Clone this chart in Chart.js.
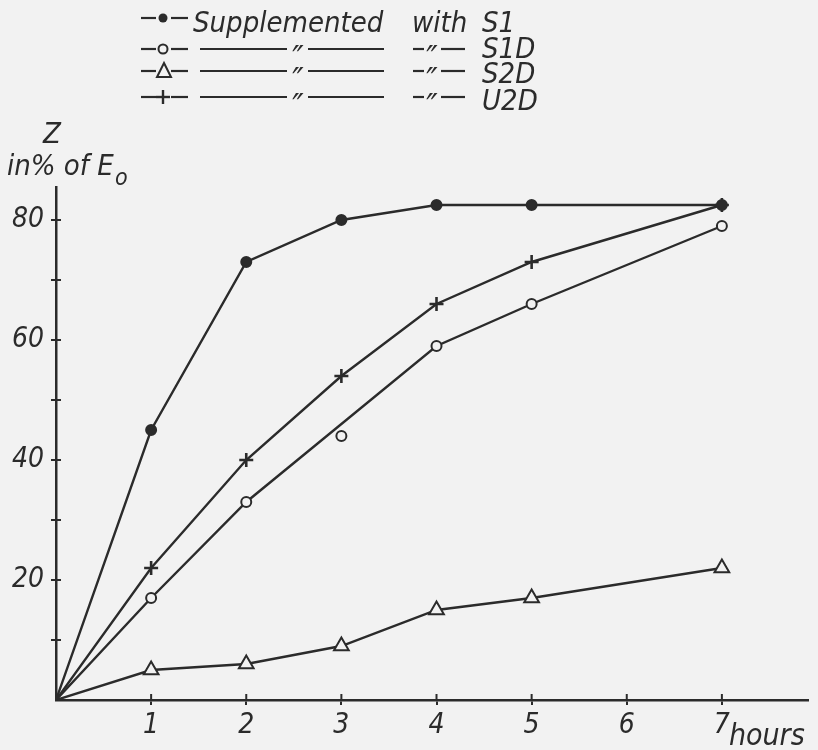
<!DOCTYPE html>
<html>
<head>
<meta charset="utf-8">
<title>Z in % of E0 vs hours</title>
<script src="https://cdn.jsdelivr.net/npm/chart.js@4/dist/chart.umd.min.js"></script>
<style>
  html, body { margin: 0; padding: 0; background: #f2f2f2; }
  #wrap { position: relative; width: 818px; height: 750px; }
</style>
</head>
<body>
<div id="wrap"><canvas id="chart" width="818" height="750"></canvas></div>
<script>
// readings (hours after start, Z in % of E0)
const hours = [0, 1, 2, 3, 4, 5, 7]
const s1 = [0, 45, 73, 80, 82.5, 82.5, 82.5]
const s1d = [0, 17, 33, 44, 59, 66, 79]
const s2d = [0, 5, 6, 9, 15, 17, 22]
const u2d = [0, 22, 40, 54, 66, 73, 82.5]
// the S1D curve is drawn past this reading, not through it
const s1dOffCurve = [3]

const seriesNames = ["S1", "S1D", "S2D", "U2D"]
const xTickLabels = [1, 2, 3, 4, 5, 6, 7]
const yTickLabels = [20, 40, 60, 80]
const xUnit = "hours"
const yTitle = ["Z", "in% of E", "o"]

const INK = "#2b2b2b"
const PAPER = "#f2f2f2"
const FONT = "'DejaVu Sans Condensed', 'DejaVu Sans', sans-serif"

function pts(values, skip) {
  return hours.map((h, i) => ({ x: h, y: skip && skip.includes(i) ? null : values[i] }))
}
const noOrigin = (r) => (ctx) => (ctx.dataIndex === 0 ? 0 : r)

const base = { borderColor: INK, borderWidth: 2.4, tension: 0, pointBorderColor: INK, pointBorderWidth: 2 }

const datasets = [
  { ...base, label: seriesNames[0], data: pts(s1), pointStyle: "circle", pointRadius: noOrigin(5), pointBackgroundColor: INK },
  { ...base, label: seriesNames[1], data: pts(s1d, s1dOffCurve), spanGaps: true, pointStyle: "circle", pointRadius: noOrigin(5), pointBackgroundColor: PAPER },
  { ...base, label: seriesNames[1] + " (off curve)", data: hours.map((h, i) => ({ x: h, y: s1d[i] })).filter((p, i) => s1dOffCurve.includes(i)), showLine: false, pointStyle: "circle", pointRadius: 5, pointBackgroundColor: PAPER },
  { ...base, label: seriesNames[2], data: pts(s2d), pointStyle: "triangle", pointRadius: noOrigin(8.5), pointBackgroundColor: PAPER },
  { ...base, label: seriesNames[3], data: pts(u2d), pointStyle: "cross", pointRadius: noOrigin(7), pointBorderWidth: 2.6 }
]

const tickColor = (list) => (ctx) => (list.includes(ctx.tick.value) || (ctx.tick.value > 0 && ctx.tick.value % 10 === 0 && list === yTickLabels) ? INK : "rgba(0,0,0,0)")

// paper, inward tick halves, axis titles and the hand-set key at the top
const decor = {
  id: "decor",
  beforeDraw(chart) {
    const c = chart.ctx
    c.save(); c.fillStyle = PAPER; c.fillRect(0, 0, chart.width, chart.height); c.restore()
  },
  afterDraw(chart) {
    const c = chart.ctx
    const xs = chart.scales.x, ys = chart.scales.y
    const x0 = xs.left, y0 = ys.bottom
    c.save()
    c.strokeStyle = INK; c.fillStyle = INK; c.lineWidth = 2
    xTickLabels.forEach((v) => { const px = xs.getPixelForValue(v); c.beginPath(); c.moveTo(px, y0); c.lineTo(px, y0 - 6); c.stroke() })
    ys.ticks.forEach((t) => { if (t.value > 0 && t.value % 10 === 0) { const py = ys.getPixelForValue(t.value); c.beginPath(); c.moveTo(x0, py); c.lineTo(x0 + 5, py); c.stroke() } })

    // unit on x
    c.font = "italic 30px " + FONT
    c.textAlign = "left"; c.textBaseline = "alphabetic"
    c.fillText(xUnit, xs.getPixelForValue(7) + 7, 745)

    // y title
    c.font = "italic 29px " + FONT
    c.textAlign = "center"
    c.fillText(yTitle[0], 52, 143)
    c.textAlign = "left"
    c.fillText(yTitle[1], 7, 175)
    c.font = "italic 23px " + FONT
    c.fillText(yTitle[2], 115, 185)

    // key
    const rows = [18, 49, 71, 97]
    const baselines = [32, 58, 83, 110]
    const seg = (a, b, y) => { c.beginPath(); c.moveTo(a, y); c.lineTo(b, y); c.stroke() }
    const ditto = (x, y) => { c.font = "italic 34px " + FONT; c.textAlign = "center"; c.fillText("\u2033", x, y + 21) }
    c.lineWidth = 2.2
    rows.forEach((y, i) => {
      seg(141, 156, y); seg(171, 188, y)
      c.lineWidth = 2
      if (i === 0) { c.beginPath(); c.arc(163, y, 4.5, 0, Math.PI * 2); c.fill() }
      if (i === 1) { c.beginPath(); c.arc(163, y, 4.5, 0, Math.PI * 2); c.stroke() }
      if (i === 2) { c.beginPath(); c.moveTo(164, y - 8); c.lineTo(171, y + 6); c.lineTo(157, y + 6); c.closePath(); c.stroke() }
      if (i === 3) { c.lineWidth = 2.4; seg(156, 170, y); c.beginPath(); c.moveTo(163, y - 7); c.lineTo(163, y + 7); c.stroke() }
      c.lineWidth = 2.2
      c.font = "italic 29px " + FONT
      c.textAlign = "left"
      if (i === 0) {
        c.fillText("Supplemented", 193, baselines[i])
        c.fillText("with", 412, baselines[i])
      } else {
        seg(200, 287, y); ditto(298, y); seg(308, 384, y)
        seg(413, 424, y); ditto(432, y); seg(441, 465, y)
      }
      c.font = "italic 29px " + FONT
      c.textAlign = "left"
      c.fillText(seriesNames[i], 482, baselines[i])
    })
    c.restore()
  }
}

const chart = new Chart(document.getElementById("chart"), {
  type: "line",
  data: { datasets },
  plugins: [decor],
  options: {
    responsive: false,
    animation: false,
    layout: { padding: { top: 187, right: 7, left: 0, bottom: 0 } },
    plugins: { legend: { display: false }, tooltip: { enabled: false } },
    scales: {
      x: {
        type: "linear", min: 0, max: 7.9,
        afterFit: (s) => { s.height = 50 },
        border: { display: true, color: INK, width: 2.5 },
        grid: { drawOnChartArea: false, tickLength: 5, lineWidth: 2, color: tickColor(xTickLabels) },
        ticks: { stepSize: 1, includeBounds: false, padding: 4, color: INK, font: { family: FONT, size: 28, style: "italic" },
          callback: (v) => (xTickLabels.includes(v) ? String(v) : "") }
      },
      y: {
        type: "linear", min: 0, max: 85.5,
        afterFit: (s) => { s.width = 56 },
        border: { display: true, color: INK, width: 2.5 },
        grid: { drawOnChartArea: false, tickLength: 5, lineWidth: 2, color: tickColor(yTickLabels) },
        ticks: { stepSize: 10, includeBounds: false, padding: 7, color: INK, font: { family: FONT, size: 28, style: "italic" },
          callback: (v) => (yTickLabels.includes(v) ? String(v) : "") }
      }
    }
  }
})
</script>
</body>
</html>
